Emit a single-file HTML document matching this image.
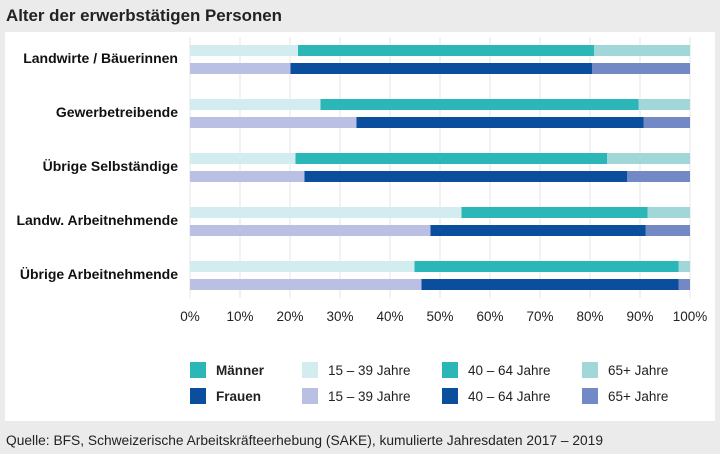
<!DOCTYPE html>
<html><head><meta charset="utf-8">
<style>
html,body{margin:0;padding:0;width:720px;height:454px;overflow:hidden;background:#ebebeb;font-family:"Liberation Sans",sans-serif;}
svg{display:block}
</style></head>
<body>
<svg id="chart" width="720" height="454" xmlns="http://www.w3.org/2000/svg">
<text x="6" y="21" font-size="17" font-weight="bold" fill="#222" textLength="276" lengthAdjust="spacingAndGlyphs">Alter der erwerbstätigen Personen</text>
<rect x="5" y="32" width="710" height="389" fill="#fff"/>
<g id="grid"></g>
<g id="bars"></g>
<g id="labels"></g>
<g id="ticks"></g>
<g id="legend"></g>
<text x="6" y="445" font-size="13.5" fill="#222" textLength="597" lengthAdjust="spacingAndGlyphs">Quelle: BFS, Schweizerische Arbeitskräfteerhebung (SAKE), kumulierte Jahresdaten 2017 – 2019</text>
</svg>
<script>
const categories = ["Landwirte / Bäuerinnen","Gewerbetreibende","Übrige Selbständige","Landw. Arbeitnehmende","Übrige Arbeitnehmende"];
const men15 = [21.6, 26.1, 21.1, 54.3, 44.9];
const men40 = [59.2, 63.6, 62.3, 37.2, 52.8];
const men65 = [19.2, 10.3, 16.6, 8.5, 2.3];
const women15 = [20.1, 33.3, 22.9, 48.1, 46.3];
const women40 = [60.3, 57.4, 64.5, 43.0, 51.4];
const women65 = [19.6, 9.3, 12.6, 8.9, 2.3];
const tickLabels = ["0%","10%","20%","30%","40%","50%","60%","70%","80%","90%","100%"];
const tickValues = [0,10,20,30,40,50,60,70,80,90,100];

const NS="http://www.w3.org/2000/svg";
const x0=190, x1=690;
const xs=v=>x0+(x1-x0)*v/100;
const rowY=i=>45+i*54;
function mk(tag,attrs,parent){const e=document.createElementNS(NS,tag);for(const k in attrs)e.setAttribute(k,attrs[k]);document.getElementById(parent).appendChild(e);return e;}

tickValues.forEach((v,i)=>{
  const g=mk("line",{x1:xs(v),x2:xs(v),y1:37,y2:298,stroke:"#e6e6e6","stroke-width":1},"grid");
  
  
  const t=mk("text",{x:xs(v),y:321,"text-anchor":"middle","font-size":13.5,fill:"#222"},"ticks");
  t.textContent=tickLabels[i];
  
  
});

const mc=["#d3ecef","#2bb6b7","#a1d7d9"], fc=["#babfe4","#0b4e9d","#7289c6"];
categories.forEach((c,i)=>{
  const y=rowY(i);
  const l=mk("text",{x:178,y:y+18,"text-anchor":"end","font-size":14,"font-weight":"bold",fill:"#111"},"labels");
  l.textContent=c;
  
  
  let acc=0;
  [men15[i],men40[i],men65[i]].forEach((v,j)=>{
    const r=mk("rect",{x:xs(acc),y:y,width:xs(acc+v)-xs(acc),height:11,fill:mc[j]},"bars");
    
    
    acc+=v;
  });
  acc=0;
  [women15[i],women40[i],women65[i]].forEach((v,j)=>{
    const r=mk("rect",{x:xs(acc),y:y+18,width:xs(acc+v)-xs(acc),height:11,fill:fc[j]},"bars");
    
    
    acc+=v;
  });
});

const legendItems=[
 [190,362,mc[1],"Männer",true],[302,362,mc[0],"15 – 39 Jahre",false],[442,362,mc[1],"40 – 64 Jahre",false],[582,362,mc[2],"65+ Jahre",false],
 [190,388,fc[1],"Frauen",true],[302,388,fc[0],"15 – 39 Jahre",false],[442,388,fc[1],"40 – 64 Jahre",false],[582,388,fc[2],"65+ Jahre",false]
];
legendItems.forEach(it=>{
  const r=mk("rect",{x:it[0],y:it[1],width:16,height:16,fill:it[2]},"legend");
  
  
  const t=mk("text",{x:it[0]+26,y:it[1]+13,"font-size":13.5,fill:"#222","font-weight":it[4]?"bold":"normal"},"legend");
  t.textContent=it[3];
  
  
});
</script>
</body></html>
